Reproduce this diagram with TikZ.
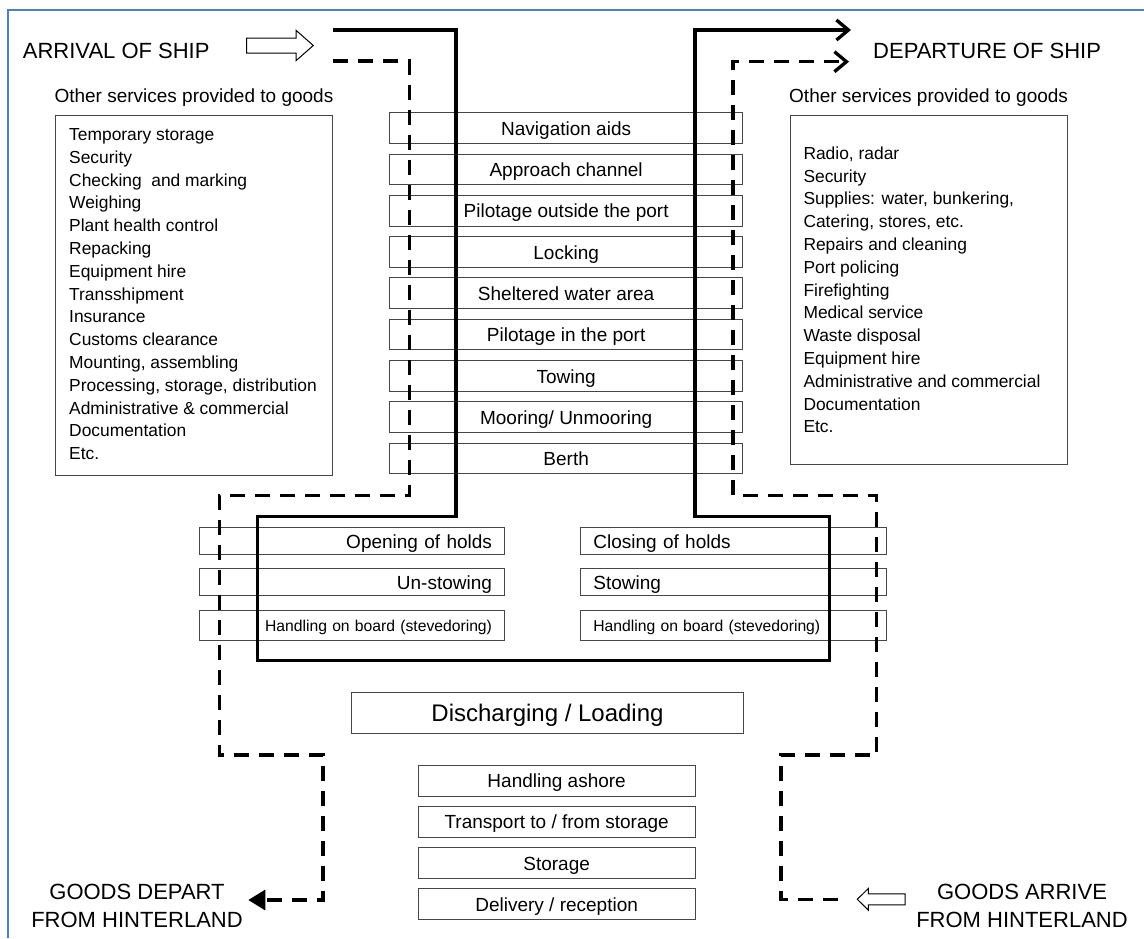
\documentclass[tikz,border=0pt]{standalone}
\usepackage{fontspec}
\setmainfont{Liberation Sans}
\usetikzlibrary{arrows.meta}
\definecolor{frameblue}{RGB}{79,129,189}
\definecolor{boxgray}{RGB}{70,70,70}
\newcommand{\fsz}[1]{\fontsize{#1}{#1}\selectfont}
\begin{document}
\begin{tikzpicture}[x=1pt,y=-1pt,
  box/.style={draw=boxgray, line width=1pt, fill=white, inner sep=0pt, outer sep=0pt, anchor=north west, text height=14.5pt, text depth=0pt},
  navbox/.style={box, minimum width=353.3pt, minimum height=30.7pt, font=\fsz{19}},
  lowbox/.style={box, minimum width=276.7pt, minimum height=31pt, font=\fsz{19}},
  holdL/.style={box, minimum width=305pt, text width=281pt, align=right, font=\fsz{19}},
  holdR/.style={box, minimum width=305.3pt, text width=280pt, align=left, font=\fsz{19}},
  listbox/.style={draw=boxgray, line width=1pt, inner sep=0pt, outer sep=0pt},
  listtext/.style={inner sep=0pt, anchor=base west, font=\fsz{17.4}},
  hdr/.style={inner sep=0pt, anchor=base west, font=\fsz{19}},
  big/.style={inner sep=0pt, font=\fsz{22}},
  shipline/.style={line width=3.3pt, line join=miter},
  goodsline/.style={line width=3.3pt, dash pattern=on 15pt off 10pt},
  hollow/.style={draw=black, line width=1pt, fill=white, line join=miter}
]
\useasboundingbox (0,0) rectangle (1144,938);
% frame
\draw[frameblue, line width=2pt] (8,938) -- (8,10) -- (1144,10);

% titles
\node[big, anchor=base west] (arrival) at (22.7,58.3) {ARRIVAL OF SHIP};
\node[big, anchor=base west] (departure) at (873,58.3) {DEPARTURE OF SHIP};
\node[big, anchor=base] (gd1) at (137,899.3) {GOODS DEPART};
\node[big, anchor=base] (gd2) at (137,927.3) {FROM HINTERLAND};
\node[big, anchor=base] (ga1) at (1022,899.3) {GOODS ARRIVE};
\node[big, anchor=base] (ga2) at (1022,927.3) {FROM HINTERLAND};

% headers and lists
\node[hdr] (lhdr) at (54.3,102) {Other services provided to goods};
\node[hdr] (rhdr) at (789,102) {Other services provided to goods};
\draw[listbox] (55.7,115) rectangle (332.3,475);
\draw[listbox] (790.7,115) rectangle (1067,464);
\foreach [count=\i] \t in {Temporary storage, Security, {Checking\ \ and marking}, Weighing, Plant health control, Repacking, Equipment hire, Transshipment, Insurance, Customs clearance, {Mounting, assembling}, {Processing, storage, distribution}, Administrative \& commercial, Documentation, Etc.}
  \node[listtext] (gl\i) at (69,{140.5+22.8*(\i-1)}) {\t};
\foreach [count=\i] \t in {{Radio, radar}, Security, {Supplies: water, bunkering,}, {Catering, stores, etc.}, Repairs and cleaning, Port policing, Firefighting, Medical service, Waste disposal, Equipment hire, Administrative and commercial, Documentation, Etc.}
  \node[listtext] (sl\i) at (803.3,{159.3+22.8*(\i-1)}) {\t};

% navigation boxes
\foreach [count=\i] \t in {Navigation aids, Approach channel, Pilotage outside the port, Locking, Sheltered water area, Pilotage in the port, Towing, Mooring/ Unmooring, Berth}
  \node[navbox] (nav\i) at (389.5,{112.7+41.3*(\i-1)}) {\t};

% holds boxes
\node[holdL, minimum height=27pt] (open) at (199,527.3) {Opening of holds};
\node[holdL, minimum height=27pt] (unstow) at (199,568.3) {Un-stowing};
\node[holdL, minimum height=30pt, font=\fsz{15.7}, text height=12pt] (hobL) at (199,610) {Handling on board (stevedoring)};
\node[holdR, minimum height=27pt] (close) at (580.7,527.3) {Closing of holds};
\node[holdR, minimum height=27pt] (stow) at (580.7,568.3) {Stowing};
\node[holdR, minimum height=30pt, font=\fsz{15.7}, text height=12pt] (hobR) at (580.7,610) {Handling on board (stevedoring)};

% discharging and shore boxes
\node[box, minimum width=391.6pt, minimum height=41pt, font=\fsz{24}, text height=18pt] (disch) at (351.7,692.3) {Discharging / Loading};
\foreach [count=\i] \t in {Handling ashore, Transport to / from storage, Storage, Delivery / reception}
  \node[lowbox] (shore\i) at (418.3,{765+41.2*(\i-1)}) {\t};

% ship path (solid)
\coordinate (s0) at (333,30);
\coordinate (s1) at (456,30);
\coordinate (s2) at (456,516.7);
\coordinate (s3) at (257.3,516.7);
\coordinate (s4) at (257.3,660.7);
\coordinate (s5) at (829.3,660.7);
\coordinate (s6) at (829.3,516.7);
\coordinate (s7) at (695,516.7);
\coordinate (s8) at (695,30);
\coordinate (s9) at (851,30);
\draw[shipline, -{Straight Barb[length=12pt,width=20pt]}] (s0) -- (s1) -- (s2) -- (s3) -- (s4) -- (s5) -- (s6) -- (s7) -- (s8) -- (s9);

% goods path discharged (dashed, left)
\coordinate (g0) at (333,61);
\coordinate (g1) at (409.3,61);
\coordinate (g2) at (409.3,495.7);
\coordinate (g3) at (219.3,495.7);
\coordinate (g4) at (219.3,755);
\coordinate (g5) at (323,755);
\coordinate (g6) at (323,900);
\coordinate (g7) at (248.3,900);
\draw[goodsline, -{Triangle[length=17pt,width=20pt]}] (g0) -- (g1) -- (g2) -- (g3) -- (g4) -- (g5) -- (g6) -- (g7);

% goods path loaded (dashed, right)
\coordinate (h0) at (838,899.3);
\coordinate (h1) at (781,899.3);
\coordinate (h2) at (781,755);
\coordinate (h3) at (876.5,755);
\coordinate (h4) at (876.5,495.7);
\coordinate (h5) at (733,495.7);
\coordinate (h6) at (733,61.7);
\coordinate (h7) at (849,61.7);
\draw[goodsline, -{Straight Barb[length=12pt,width=20pt]}] (h0) -- (h1) -- (h2) -- (h3) -- (h4) -- (h5) -- (h6) -- (h7);

% hollow arrows
\draw[hollow] (246.7,38) -- (296,38) -- (296,30.3) -- (313.3,45.5) -- (296,60.7) -- (296,53) -- (246.7,53) -- cycle;
\draw[hollow] (905,893.8) -- (868.3,893.8) -- (868.3,888.5) -- (857.3,899.3) -- (868.3,910.1) -- (868.3,904.8) -- (905,904.8) -- cycle;
\end{tikzpicture}
\end{document}
